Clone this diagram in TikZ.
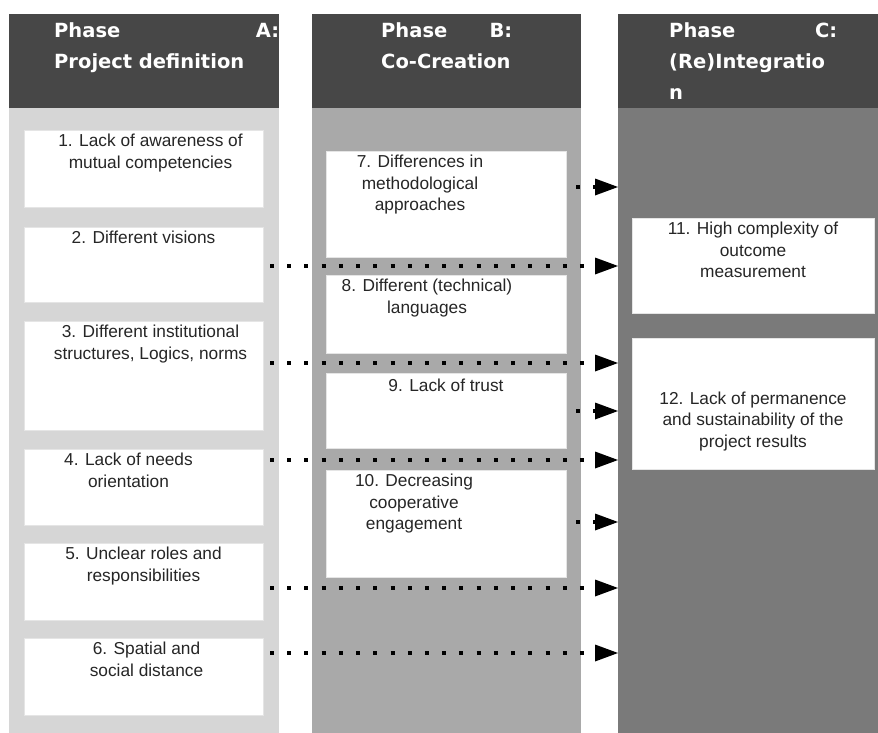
\documentclass[tikz,border=0pt]{standalone}
\usepackage{fontspec}
\setmainfont{Liberation Sans}
\newfontfamily\headfont{DejaVu Sans}
\usetikzlibrary{arrows.meta, positioning, calc}
\definecolor{hdark}{HTML}{474747}
\definecolor{bandA}{HTML}{D6D6D6}
\definecolor{bandB}{HTML}{A9A9A9}
\definecolor{bandC}{HTML}{7A7A7A}
\tikzset{
  >=Latex,
  band/.style={fill=#1, draw=none, inner sep=0pt, outer sep=0pt, anchor=north west},
  phasehead/.style={fill=hdark, draw=none, inner sep=0pt, outer sep=0pt,
    anchor=north west, minimum height=94bp},
  headtext/.style={text=white, inner sep=0pt, anchor=north west, align=left,
    text width=#1, font=\headfont\bfseries\fontsize{19.5bp}{31bp}\selectfont},
  issue/.style={fill=white, draw=black!10, line width=0.5bp, inner sep=0pt,
    outer sep=0pt, anchor=north west, minimum width=#1},
  issuetext/.style={inner sep=0pt, anchor=north, align=center, text=black!85,
    font=\fontsize{17.3bp}{21.5bp}\selectfont},
  dotarrow/.style={line width=4bp, dash pattern=on 4bp off 13.22bp,
    -{Triangle[length=23bp,width=17bp,line width=0pt]}}
}
\newcommand{\phfill}{\hskip0pt plus1filll\relax}
\begin{document}
\begin{tikzpicture}[x=1bp, y=-1bp]
  \useasboundingbox (0,0) rectangle (878,733);
  % phase columns
  \node[band=bandA, minimum width=270bp, minimum height=625bp] (colA) at (9,108) {};
  \node[band=bandB, minimum width=269bp, minimum height=625bp] (colB) at (312,108) {};
  \node[band=bandC, minimum width=260bp, minimum height=625bp] (colC) at (618,108) {};
  \node[phasehead, minimum width=270bp] (headA) at (9,14) {};
  \node[phasehead, minimum width=269bp] (headB) at (312,14) {};
  \node[phasehead, minimum width=260bp] (headC) at (618,14) {};
  \node[headtext=225bp] (labA) at (54,22) {Phase\phfill A:\\Project definition};
  \node[headtext=131bp] (labB) at (381,22) {Phase\phfill B:\\Co-Creation};
  \node[headtext=168bp] (labC) at (669,22) {Phase\phfill C:\\(Re)Integratio\\n};
  % issues
  \foreach \n/\x/\y/\w/\h/\dx/\dy/\txt in {
    1/24/130/239/77/7/4.2/{1. Lack of awareness of\\mutual competencies},
    2/24/227/239/75/0/4.2/{2. Different visions},
    3/24/321/239/109/7/4.2/{3. Different institutional\\structures, Logics, norms},
    4/24/449/239/76/-15/4.2/{4. Lack of needs\\orientation},
    5/24/543/239/77/0/4.2/{5. Unclear roles and\\responsibilities},
    6/24/638/239/77/3/4.2/{6. Spatial and\\social distance},
    7/326/151/240/106/-26/4.2/{7. Differences in\\methodological\\approaches},
    8/326/275/240/78/-19/4.2/{8. Different (technical)\\languages},
    9/326/373/240/75/0/6/{9. Lack of trust},
    10/326/470/240/107/-32/4.2/{10. Decreasing\\cooperative\\engagement},
    11/632/218/242/95/0/4.2/{11. High complexity of\\outcome\\measurement},
    12/632/338/242/131/0/53.4/{12. Lack of permanence\\and sustainability of the\\project results}} {
    \node[issue=\w bp, minimum height=\h bp] (b\n) at (\x,\y) {};
    \node[issuetext] (t\n) at ([xshift=\dx bp, yshift=-\dy bp]b\n.north) {\txt};
  }
  % dotted links into phase C
  \foreach \y/\x [count=\i] in {187/576, 266/270, 363/270, 411/576,
                                460/270, 522/576, 588/270, 653/270} {
    \coordinate (s\i) at (\x,\y);
    \draw[dotarrow] (s\i) -- (s\i -| colC.west);
  }
\end{tikzpicture}
\end{document}
